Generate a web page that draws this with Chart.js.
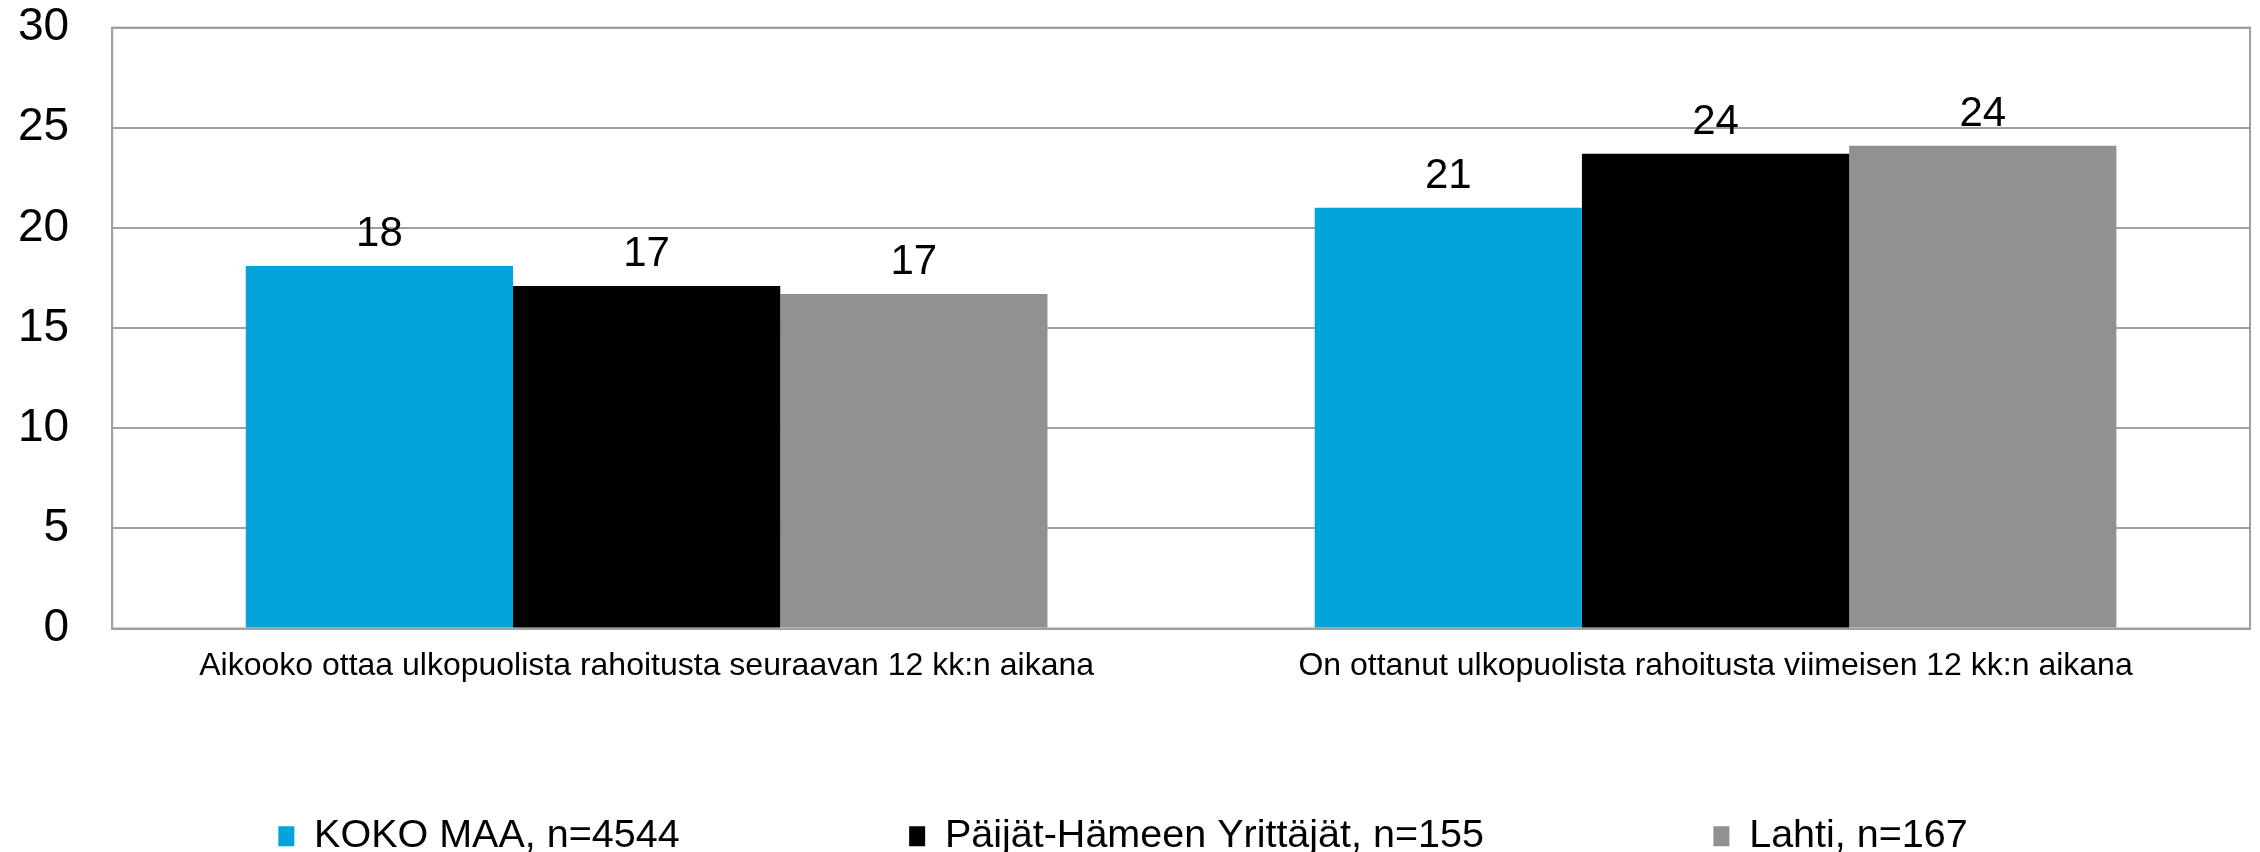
<!DOCTYPE html>
<html>
<head>
<meta charset="utf-8">
<script src="https://cdn.jsdelivr.net/npm/chart.js@4/dist/chart.umd.min.js"></script>
<style>
body { margin: 0; background: #ffffff; }
</style>
</head>
<body>
<canvas id="chart" width="2260" height="852"></canvas>
<script>
var categories = ['Aikooko ottaa ulkopuolista rahoitusta seuraavan 12 kk:n aikana', 'On ottanut ulkopuolista rahoitusta viimeisen 12 kk:n aikana'];
var seriesNames = ['KOKO MAA, n=4544', 'Päijät-Hämeen Yrittäjät, n=155', 'Lahti, n=167'];
var kokoMaa = [18.1, 21.0];
var paijatHame = [17.1, 23.7];
var lahti = [16.7, 24.1];
var yTicks = [0, 5, 10, 15, 20, 25, 30];
var colorSet = ['#02A4D9', '#000000', '#919191'];
var lineColor = '#A0A0A0';

Chart.defaults.font.family = "'Liberation Sans', Arial, sans-serif";
Chart.defaults.color = '#000000';

// value labels above the bars
var valueLabels = {
	id: 'valueLabels',
	afterDatasetsDraw: function (chart) {
		var ctx = chart.ctx;
		ctx.save();
		ctx.font = "42px 'Liberation Sans', Arial, sans-serif";
		ctx.fillStyle = '#000000';
		ctx.textAlign = 'center';
		ctx.textBaseline = 'alphabetic';
		chart.data.datasets.forEach(function (dataset, i) {
			chart.getDatasetMeta(i).data.forEach(function (bar, j) {
				ctx.fillText(Math.round(dataset.data[j]), bar.x, bar.y - 20);
			});
		});
		ctx.restore();
	}
};

// box round the plot area
var plotFrame = {
	id: 'plotFrame',
	beforeDatasetsDraw: function (chart) {
		var a = chart.chartArea;
		var ctx = chart.ctx;
		ctx.save();
		ctx.strokeStyle = lineColor;
		ctx.lineWidth = 2;
		ctx.strokeRect(a.left, a.top, a.right - a.left, a.bottom - a.top);
		ctx.restore();
	}
};

// spaces keep the legend items apart without growing its height
var legendGap = ' '.repeat(20);
var legendTail = '  ';

var datasets = [kokoMaa, paijatHame, lahti].map(function (values, i) {
	return {
		label: seriesNames[i],
		data: values,
		backgroundColor: colorSet[i],
		borderWidth: 0,
		categoryPercentage: 0.75,
		barPercentage: 1.0
	};
});

var config = {
	type: 'bar',
	data: {
		labels: categories,
		datasets: datasets
	},
	options: {
		responsive: false,
		animation: false,
		devicePixelRatio: 1,
		layout: {
			padding: { top: 27, left: 18, right: 10, bottom: -14 }
		},
		scales: {
			x: {
				grid: { display: false, drawTicks: false },
				border: { color: lineColor, width: 2 },
				ticks: { font: { size: 32 }, padding: 18, maxRotation: 0 },
				afterFit: function (scale) {
					scale.height = 178;
				}
			},
			y: {
				min: yTicks[0],
				max: yTicks[yTicks.length - 1],
				ticks: { stepSize: yTicks[1] - yTicks[0], font: { size: 46 }, padding: 0 },
				grid: { color: lineColor, lineWidth: 2, drawTicks: true, tickLength: 43, tickColor: 'rgba(0,0,0,0)' },
				border: { color: lineColor, width: 2 }
			}
		},
		plugins: {
			legend: {
				position: 'bottom',
				labels: {
					font: { size: 39.5 },
					boxWidth: 16,
					boxHeight: 20,
					padding: 10,
					color: '#000000',
					generateLabels: function (chart) {
						var items = Chart.defaults.plugins.legend.labels.generateLabels(chart);
						for (var i = 0; i < items.length; i++) {
							items[i].text = items[i].text + (i < items.length - 1 ? legendGap : legendTail);
						}
						return items;
					}
				}
			},
			tooltip: { enabled: false }
		}
	},
	plugins: [plotFrame, valueLabels]
};

var barChart = new Chart(document.getElementById('chart'), config);
</script>
</body>
</html>
